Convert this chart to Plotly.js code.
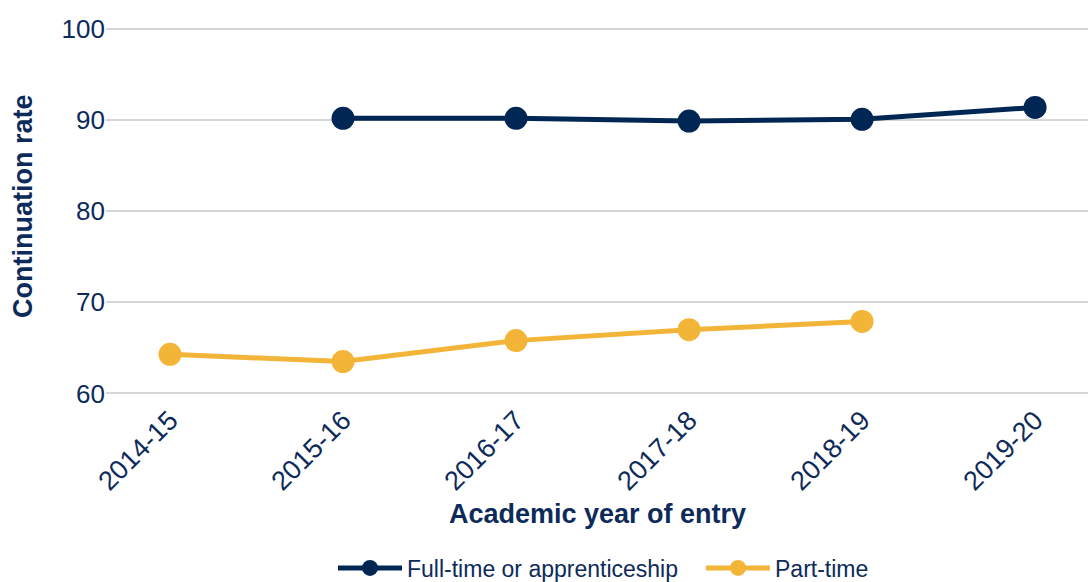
<!DOCTYPE html>
<html>
<head>
<meta charset="utf-8">
<script src="https://cdn.plot.ly/plotly-3.0.1.min.js"></script>
<style>html,body{margin:0;padding:0;background:#fff;}#chart{width:1088px;height:582px;}</style>
</head>
<body>
<div id="chart"></div>
<script>
const years = ["2014-15", "2015-16", "2016-17", "2017-18", "2018-19", "2019-20"];
const fullTimeYears = ["2015-16", "2016-17", "2017-18", "2018-19", "2019-20"];
const fullTimeRate = [90.2, 90.2, 89.9, 90.1, 91.4];
const partTimeYears = ["2014-15", "2015-16", "2016-17", "2017-18", "2018-19"];
const partTimeRate = [64.3, 63.5, 65.8, 67.0, 67.9];
const yTicks = [60, 70, 80, 90, 100];

const navy = "#002654";
const yellow = "#f2b538";
const textColor = "#0d2b5a";
const font = "Liberation Sans, Arial, sans-serif";

const traces = [
  {
    x: fullTimeYears, y: fullTimeRate, type: "scatter", mode: "lines+markers",
    name: "Full-time or apprenticeship",
    line: {color: navy, width: 5},
    marker: {color: navy, size: 23}
  },
  {
    x: partTimeYears, y: partTimeRate, type: "scatter", mode: "lines+markers",
    name: "Part-time",
    line: {color: yellow, width: 5},
    marker: {color: yellow, size: 23}
  }
];

const plotTop = 20, plotBottom = 398, plotLeft = 106;
const plotH = plotBottom - plotTop, plotW = 1088 - plotLeft;

const layout = {
  width: 1088, height: 582,
  margin: {l: plotLeft, r: 0, t: plotTop, b: 582 - plotBottom, autoexpand: false},
  paper_bgcolor: "#fff", plot_bgcolor: "#fff",
  font: {family: font, color: textColor, size: 26},
  showlegend: true,
  legend: {
    orientation: "h", x: (333 - plotLeft) / plotW, xanchor: "left",
    y: (plotBottom - 568) / plotH, yanchor: "middle",
    font: {size: 23, color: textColor}, itemwidth: 64,
    entrywidth: 289, entrywidthmode: "pixels"
  },
  xaxis: {
    type: "category", categoryarray: years, categoryorder: "array",
    range: [-0.37, 5.306], automargin: false,
    tickangle: -45, tickfont: {size: 27, color: textColor},
    showgrid: false, zeroline: false, showline: false, ticks: "",
    title: {text: ""}
  },
  yaxis: {
    range: [59.5, 101], tickvals: yTicks, ticktext: yTicks.map(String),
    automargin: false,
    tickfont: {size: 26, color: textColor},
    showgrid: true, gridcolor: "#d6d6d6", gridwidth: 2,
    zeroline: false, showline: false, ticks: "",
    title: {text: ""}
  },
  annotations: [
    {
      text: "<b>Academic year of entry</b>", xref: "paper", yref: "paper",
      x: 0.5, y: (plotBottom - 514) / plotH, xanchor: "center", yanchor: "middle",
      showarrow: false, font: {size: 27, color: textColor}
    },
    {
      text: "<b>Continuation rate</b>", xref: "paper", yref: "paper",
      x: (23 - plotLeft) / plotW, y: (plotBottom - 206) / plotH,
      xanchor: "center", yanchor: "middle", textangle: -90,
      showarrow: false, font: {size: 27, color: textColor}
    }
  ]
};

Plotly.newPlot("chart", traces, layout, {displayModeBar: false, staticPlot: true});
</script>
</body>
</html>
